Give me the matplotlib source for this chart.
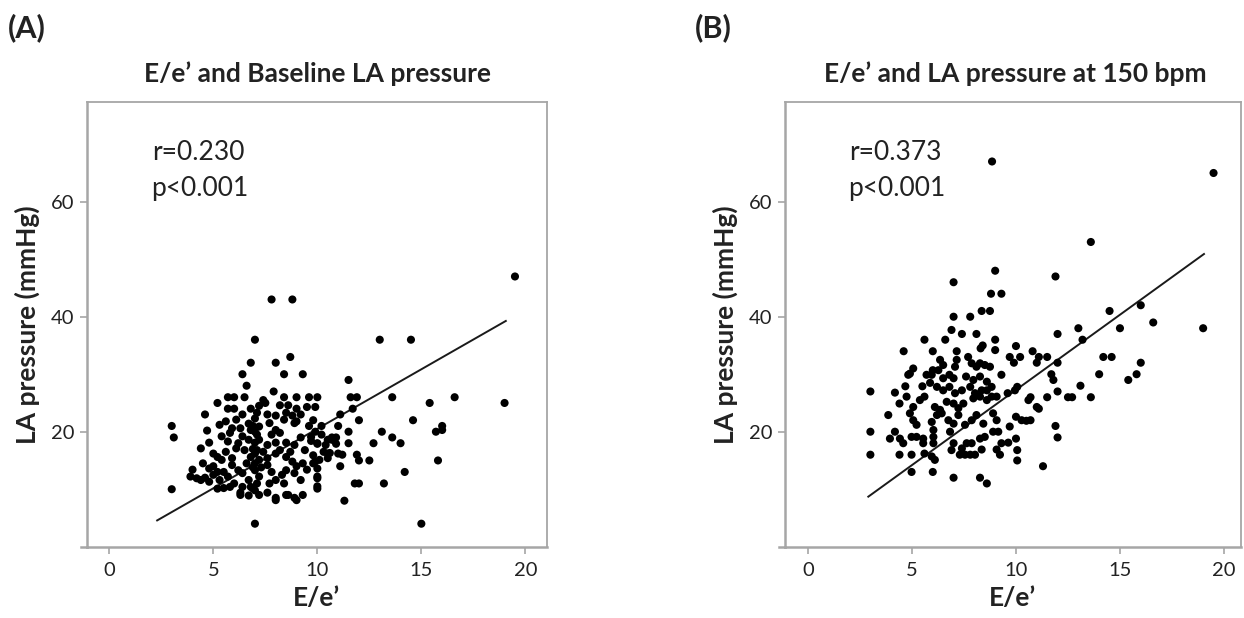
import matplotlib
matplotlib.use("Agg")
import matplotlib.pyplot as plt
import numpy as np
from matplotlib.lines import Line2D

plt.rcParams['font.family'] = ['Lato', 'DejaVu Sans']

# ---------------- data ----------------
A_x = [7.8, 8.8, 7.0, 6.8, 8.0, 8.7, 6.4, 8.4, 9.3, 6.6, 7.9,
       19.5, 13.0, 14.5, 11.5, 11.6, 11.9, 13.6, 15.4, 16.6, 19.0, 11.7, 11.1, 12.0, 14.6, 11.0,
       11.5, 13.1, 15.7, 16.0, 16.0, 10.7, 10.9, 11.5, 12.7, 13.6, 14.0, 10.6, 11.2, 11.9, 12.0,
       12.5, 15.8, 11.1, 14.2, 11.8, 12.0, 13.2, 11.3, 15.0, 7.0, 3.0, 3.1, 3.0,
       5.7, 6.0, 6.5, 7.4, 7.5, 8.4, 9.0, 9.6, 10.0, 5.2,
       5.7, 6.0, 6.8, 7.2, 8.2, 8.6, 9.0, 9.5, 9.9,
       4.6, 6.4, 7.1, 7.6, 8.0, 8.5, 8.8, 9.2,
       4.7, 5.3, 5.6, 6.1, 5.9, 6.3, 6.7, 6.8, 7.0, 7.2, 7.7, 8.0, 8.4, 8.9, 9.0,
       5.4, 5.7, 6.4, 6.7, 7.0, 7.2, 7.6, 8.0, 8.5, 8.9,
       4.4, 4.8, 5.0, 5.2, 5.4, 5.6, 5.9, 6.1,
       6.5, 6.8, 7.0, 7.2, 7.4, 7.6, 8.0, 8.5, 8.8, 9.0,
       9.7, 10.0, 10.4, 9.8, 10.1, 10.3, 10.5, 10.7, 10.9,
       4.5, 4.0, 3.9, 4.2, 4.4, 4.8, 5.0, 4.8,
       5.5, 5.3, 5.7, 5.9, 6.2, 6.0,
       6.4, 6.7, 6.4, 6.8, 7.0, 7.2, 7.0, 7.2,
       7.6, 7.8, 8.0, 7.7, 8.3, 8.5, 8.4,
       8.9, 9.2, 9.3, 9.5, 9.9, 10.0, 10.0, 10.0,
       5.5, 5.8, 7.6, 8.0, 8.5, 8.9, 9.3, 6.3, 6.7,
       9.7, 10.0, 10.8, 11.0, 10.5, 9.8, 10.0, 10.0,
       5.2, 6.3, 6.9, 8.0, 8.6, 9.0,
       6.9, 7.0, 7.1, 6.9, 7.1, 7.0, 6.9, 7.1, 6.6, 7.3, 5.0, 5.2, 4.6, 5.8, 6.2,
       7.8, 8.2, 8.2, 8.7, 9.2, 9.4, 9.6, 9.9, 10.2, 10.2, 10.5, 9.8]
A_y = [43, 43, 36, 32, 32, 33, 30, 30, 30, 28, 27,
       47, 36, 36, 29, 26, 26, 26, 25, 26, 25, 24, 23, 22, 22, 21,
       20, 20, 20, 20.3, 21, 19, 19, 18, 18, 19, 18, 16.3, 16, 16, 15,
       15, 15, 14, 13, 11, 11, 11, 8, 4, 4, 21, 19, 10,
       26, 26, 26, 25.5, 25, 26, 26, 26, 26, 25,
       24, 24, 24, 24.5, 24.6, 24.6, 24, 24.3, 24.3,
       23, 23, 23.3, 23, 22.8, 23.3, 22.8, 23,
       20.2, 21.2, 21.8, 22.1, 20.6, 20.6, 21.4, 20.3, 22.3, 20.9, 21.5, 20.3, 22.1, 21.5, 21.8,
       19.2, 18.3, 19.2, 18.6, 18.1, 18.6, 17.7, 18.1, 18.1, 17.7,
       17.1, 18.1, 16.2, 15.6, 15.1, 16.5, 15.4, 17.1,
       16.8, 15.6, 16.2, 15.1, 16.5, 15.4, 16.2, 15.6, 14.8, 14.0,
       18.4, 17.9, 17.7, 15.9, 15.1, 16.5, 15.4, 18.6, 17.9,
       14.5, 13.4, 12.2, 11.9, 11.6, 13.6, 12.5, 11.3,
       13.0, 11.6, 12.2, 14.2, 13.3, 11.0,
       12.8, 11.6, 10.4, 10.4, 13.3, 12.2, 9.8, 9.0,
       14.2, 13.0, 11.6, 11.0, 12.5, 13.3, 11.0,
       12.8, 11.6, 14.5, 13.4, 14.8, 13.6, 11.9, 10.5,
       10.2, 10.4, 9.4, 8.5, 9.0, 8.5, 9.0, 9.4, 8.9,
       19.1, 18.0, 18.6, 16.2, 16.2, 14.5, 12.2, 10.1,
       10.1, 9.0, 10.1, 8.1, 9.0, 8.1,
       21, 20, 19.5, 17, 16.8, 14.5, 13.8, 11, 14.5, 13.8, 14.0, 13.0, 12.0, 19.8, 18.0,
       19.5, 19.8, 16.8, 16.5, 19.0, 16.8, 21, 20, 19.5, 21.0, 18.6, 22.0]

B_x = [8.85, 19.5, 13.6, 11.9, 14.5, 16.0, 16.6, 19.0, 15.0, 13.0, 12.0, 13.2,
       10.8, 11.1, 11.0, 11.5, 12.0, 11.7, 11.8, 14.2, 14.6, 14.0, 16.0, 15.8, 15.4, 13.1,
       10.7, 11.1, 11.5, 12.0, 12.5, 12.7, 13.6, 10.7, 11.9, 12.0, 11.3,
       9.0, 7.0, 8.8, 9.3, 8.35, 8.75, 7.0, 7.8, 6.9, 6.6, 7.4, 8.1, 5.6, 9.0,
       4.6, 6.0, 7.15, 8.3, 8.4, 9.0, 10.0, 9.7, 9.9, 10.2,
       6.35, 6.5, 6.0, 7.15, 7.07, 7.7, 7.87, 8.1, 8.27, 8.5, 8.75,
       5.06, 4.82, 4.9,
       5.7, 5.95, 6.27, 6.5, 6.8, 7.0, 7.6, 7.95, 8.27, 8.6, 9.3,
       4.68, 5.5, 5.87, 6.2, 6.5, 6.8, 7.07, 7.4, 7.8, 8.03, 8.35, 8.6, 8.83,
       3.0, 4.18, 9.6, 9.95, 10.06,
       4.4, 4.74, 5.38, 5.6, 5.06, 6.1, 6.35, 6.67, 7.0, 7.23, 7.47, 7.95, 8.27, 8.6, 8.83, 9.07, 10.6, 11.0,
       3.86, 4.9, 5.06, 5.22, 5.95, 6.2, 6.43, 6.75, 7.0, 7.23, 7.55, 7.87, 8.1, 8.43, 8.9, 9.07, 9.7, 10.0, 10.27, 10.5,
       3.0, 4.18, 4.42, 4.58, 3.94, 4.98, 5.22, 5.54, 5.54, 6.03, 6.03, 6.03, 6.83, 7.0, 7.4, 7.63, 7.87,
       8.27, 8.5, 8.9, 9.15, 8.35, 9.07, 9.3, 9.63, 10.0, 10.06,
       3.0, 4.4, 4.98, 5.6, 5.95, 6.1, 6.9, 7.3, 7.55, 7.8, 8.03, 9.23,
       4.98, 6.0, 7.0, 8.27, 8.6, 10.06]
B_y = [67, 65, 53, 47, 41, 42, 39, 38, 38, 38, 37, 36,
       34, 33, 32, 33, 32, 30, 29, 33, 33, 30, 32, 30, 29, 28,
       26, 24, 26, 27, 26, 26, 26, 22, 21, 19, 14,
       48, 46, 44, 44, 41, 41, 40, 40, 37.7, 36, 37, 37, 36, 36,
       34, 34, 34, 34.5, 35, 34.2, 34.9, 33, 32, 33,
       32.5, 31.6, 30.7, 32.5, 31.3, 33, 31.9, 31.3, 31.9, 31.6, 31.3,
       31, 29.9, 30.1,
       29.9, 29.9, 30.7, 29.3, 29.9, 29.3, 29.6, 29, 29.6, 28.7, 29.9,
       27.9, 27.9, 28.5, 27.8, 27.2, 27.8, 26.7, 27.2, 27.8, 26.7, 27.2, 27.2, 27.8,
       27, 26.8, 26.7, 27.2, 27.8,
       24.9, 26.1, 25.5, 26.1, 24.3, 24.3, 23.8, 25.2, 24.9, 24.1, 24.9, 25.8, 26.1, 25.5, 26.1, 26.1, 25.5, 24.3,
       22.9, 23.2, 22.0, 21.2, 21.7, 22.9, 23.2, 22.0, 21.4, 22.9, 21.2, 22.0, 22.9, 21.4, 23.2, 22.0, 20.9, 22.6, 22.0, 21.9,
       20, 20, 18.8, 18, 18.8, 19.1, 19.1, 18.8, 18, 20.3, 19.1, 18, 20, 18, 17.1, 18, 18,
       18.8, 19.1, 20, 20, 16.9, 16.9, 18, 18.1, 18.8, 16.8,
       16, 16, 16, 16.2, 15.7, 15.1, 16.8, 16, 16, 16, 16, 16,
       13, 13, 12, 12, 11, 15]

# regression lines (slope, intercept) and drawn x-range
fit_A = (2.07, -0.19)
fit_A_range = (2.3, 19.06)
fit_B = (2.615, 1.12)
fit_B_range = (2.9, 19.04)

titles = ["E/e\u2019 and Baseline LA pressure", "E/e\u2019 and LA pressure at 150 bpm"]
stats = [("r=0.230", "p<0.001"), ("r=0.373", "p<0.001")]
panel_labels = ["(A)", "(B)"]
xticks = [0, 5, 10, 15, 20]
yticks = [20, 40, 60]

# ---------------- figure ----------------
W, H = 1244, 618
fig = plt.figure(figsize=(W / 100, H / 100), dpi=100)

def px(l, r, t, b):
    return [l / W, 1 - b / H, (r - l) / W, (b - t) / H]

axA = fig.add_axes(px(86.7, 547, 101.7, 546.7))
axB = fig.add_axes(px(784.8, 1241, 101.7, 546.7))

spine_col = "#a6a6a6"
txt_col = "#222222"

panels = [
    (axA, A_x, A_y, fit_A, fit_A_range, (-1.087, 21.04), 0, 318),
    (axB, B_x, B_y, fit_B, fit_B_range, (-1.115, 20.82), 1, 1015),
]

for ax, xs, ys, fit, frange, xl, i, tcx in panels:
    ax.scatter(xs, ys, s=34, color="black", edgecolors="none", zorder=3)
    lx = np.array(frange)
    ax.plot(lx, fit[0] * lx + fit[1], color="#1a1a1a", lw=1.4, zorder=2)
    ax.set_xlim(*xl)
    ax.set_ylim(0, 77.4)
    ax.set_xticks(xticks)
    ax.set_yticks(yticks)
    ax.tick_params(axis="both", direction="out", length=5, width=1.2, color=spine_col,
                   labelsize=14.5, labelcolor=txt_col, pad=4)
    ax.tick_params(axis="x", pad=6)
    for sp in ax.spines.values():
        sp.set_color(spine_col)
        sp.set_linewidth(1.3)
    ax.spines["left"].set_linewidth(1.8)
    ax.spines["bottom"].set_linewidth(1.8)
    # small extension of the x axis line to the left
    ax.add_line(Line2D([-0.013, 0], [0, 0], transform=ax.transAxes, color=spine_col,
                       lw=1.8, clip_on=False))
    ax.set_xlabel("E/e\u2019", fontsize=19, fontweight="bold", color=txt_col, labelpad=5)
    ax.set_ylabel("LA pressure (mmHg)", fontsize=19, fontweight="bold", color=txt_col, labelpad=8)
    fig.text(tcx / W, 1 - 74 / H, titles[i], fontsize=19, fontweight="bold",
             color=txt_col, ha="center", va="center")
    ax.text(0.142, 0.885, stats[i][0], transform=ax.transAxes, fontsize=19,
            color=txt_col, ha="left", va="center")
    ax.text(0.139, 0.806, stats[i][1], transform=ax.transAxes, fontsize=19,
            color=txt_col, ha="left", va="center")

fig.text(8 / W, 1 - 28 / H, panel_labels[0], fontsize=22, fontweight="bold",
         color=txt_col, ha="left", va="center")
fig.text(695 / W, 1 - 28 / H, panel_labels[1], fontsize=22, fontweight="bold",
         color=txt_col, ha="left", va="center")

fig.savefig("out.png", dpi=100, facecolor="white")
